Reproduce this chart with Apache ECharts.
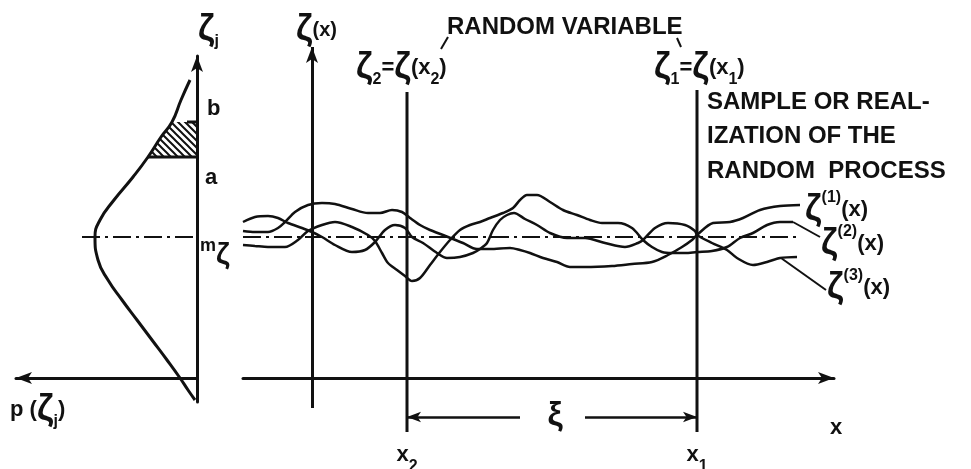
<!DOCTYPE html>
<html>
<head>
<meta charset="utf-8">
<script src="https://cdn.jsdelivr.net/npm/echarts@6.0.0/dist/echarts.min.js"></script>
<style>
html, body { margin: 0; padding: 0; background: #fff; }
#main { width: 971px; height: 469px; }
</style>
</head>
<body>
<div id="main"></div>
<script>
// levels on the zeta scale (shared by both panels)
var M_ZETA = 14.1;
var A_LEVEL = 22.1;
var B_LEVEL = 25.6;
// the two sampling positions on x
var X2 = 9.5;
var X1 = 38.5;

// density p(zeta)
var bellZeta = [29.8, 27.8, 25.6, 24.1, 22.1, 20.1, 17.8, 15.8, 14.1, 11.8, 9.8, 7.8, 5.8, 3.8, 1.8, 0, -1.2, -2.2];
var bellP    = [0.7, 1.6, 2.5, 3.6, 4.9, 6.4, 8.3, 9.7, 10.2, 9.9, 8.9, 7.5, 6.0, 4.5, 3.0, 1.7, 0.9, 0.2];

// three realizations zeta^(k)(x), [x, zeta]
var sample1 = [[-6.9,14.7],[-5.7,14.6],[-4.4,14.6],[-3.4,15.0],[-2.7,15.6],[-1.7,16.6],[-0.4,17.3],[1.0,17.5],[2.3,17.4],[4.0,16.9],[5.6,16.5],[6.8,16.5],[8.0,16.8],[9.0,16.6],[9.8,16.0],[10.8,15.3],[11.8,14.8],[13.1,14.3],[14.1,13.9],[15.1,13.5],[16.5,12.9],[17.8,12.9],[19.8,13.0],[20.8,12.8],[21.8,12.5],[23.1,12.0],[24.5,11.6],[25.8,11.1],[27.3,11.1],[30.0,11.2],[32.0,11.4],[34.0,11.6],[35.6,12.3],[37.0,13.1],[38.0,13.8],[38.5,14.3],[40.1,15.5],[41.8,15.6],[43.1,16.0],[44.8,16.8],[46.8,17.2],[48.8,17.3]];
var sample2 = [[-6.9,13.3],[-5.7,13.2],[-4.4,13.1],[-2.7,13.1],[-1.4,13.8],[-0.4,14.7],[1.0,15.3],[2.3,15.6],[4.0,15.1],[5.6,14.3],[6.3,13.7],[7.0,12.5],[7.6,11.5],[8.5,10.8],[9.3,10.2],[10.0,9.7],[10.8,10.0],[11.8,11.3],[12.8,12.6],[13.8,13.8],[14.8,14.8],[15.8,15.3],[16.8,15.6],[17.8,16.0],[19.1,16.5],[20.1,17.0],[20.8,17.8],[21.5,18.3],[22.5,18.3],[23.8,17.6],[25.1,16.8],[26.5,16.3],[27.8,15.8],[29.0,15.5],[30.6,15.5],[32.0,15.0],[33.1,13.8],[34.0,13.1],[35.0,12.6],[36.0,12.5],[37.3,12.5],[38.5,12.6],[40.0,12.7],[41.5,13.1],[42.8,14.0],[44.1,14.5],[45.5,15.3],[46.8,15.6],[48.1,15.6]];
var sample3 = [[-6.9,15.6],[-5.7,16.1],[-4.4,16.2],[-3.4,16.0],[-2.4,15.5],[-1.0,15.0],[0,14.6],[1.0,14.1],[2.3,13.3],[4.0,12.6],[5.3,12.8],[6.3,13.6],[7.3,14.8],[8.3,15.3],[9.3,15.0],[10.0,14.1],[11.1,13.5],[12.5,12.5],[13.5,12.0],[14.8,12.1],[16.1,12.5],[16.8,12.9],[17.5,13.5],[18.1,14.8],[18.8,15.8],[19.5,16.3],[20.2,16.5],[21.3,15.9],[22.5,15.3],[23.8,14.5],[25.5,14.0],[27.3,14.0],[29.3,13.5],[31.3,13.1],[32.6,13.5],[33.1,13.8],[34.3,15.0],[35.6,15.5],[37.3,15.3],[38.3,14.7],[38.5,14.3],[40.0,13.5],[41.5,12.8],[42.5,12.0],[44.1,11.3],[45.5,11.6],[46.8,12.0],[48.5,12.1]];

var INK = '#111';
var FONT = '"Liberation Sans", Arial, sans-serif';

var bell = bellZeta.map(function (z, i) { return [bellP[i], z]; });
// hatched probability between a and b
var hatch = bell.filter(function (d) { return d[1] >= A_LEVEL && d[1] <= B_LEVEL; });
hatch.push([0, A_LEVEL], [0, B_LEVEL]);

var tile = document.createElement('canvas');
tile.width = 7; tile.height = 7;
var g = tile.getContext('2d');
g.strokeStyle = INK; g.lineWidth = 2;
g.beginPath();
g.moveTo(-1, -1); g.lineTo(8, 8);
g.moveTo(-1, 6); g.lineTo(1, 8);
g.moveTo(6, -1); g.lineTo(8, 1);
g.stroke();

var dom = document.getElementById('main');
var myChart = echarts.init(dom);

function seg(name, data, width, xi, extra) {
    var s = {
        name: name, type: 'line', xAxisIndex: xi, yAxisIndex: xi,
        data: data, symbol: 'none', silent: true, clip: false,
        lineStyle: { color: INK, width: width }
    };
    for (var k in extra) s[k] = extra[k];
    return s;
}

var RICH = {
    z:   { font: 'bold 36px ' + FONT, lineHeight: 40 },
    zs:  { font: 'bold 30px ' + FONT, lineHeight: 34, verticalAlign: 'bottom' },
    t:   { font: 'bold 22px ' + FONT, lineHeight: 40 },
    tm:  { font: 'bold 20px ' + FONT, lineHeight: 34 },
    ts:  { font: 'bold 18px ' + FONT, lineHeight: 30, verticalAlign: 'top' },
    sub: { font: 'bold 16px ' + FONT, lineHeight: 16, verticalAlign: 'bottom' },
    sup: { font: 'bold 16px ' + FONT, lineHeight: 16, verticalAlign: 'top' }
};

function txt(x, y, text, font, align) {
    return {
        type: 'text', x: x, y: y, silent: true,
        style: {
            text: text, rich: RICH, fill: INK,
            font: font || ('bold 24px ' + FONT),
            align: align || 'left', verticalAlign: 'middle'
        }
    };
}

function mark(x1, y1, x2, y2) {
    return { type: 'line', silent: true, shape: { x1: x1, y1: y1, x2: x2, y2: y2 }, style: { stroke: INK, lineWidth: 2 } };
}

var hidden = { axisTick: { show: false }, axisLabel: { show: false }, splitLine: { show: false } };
function axis(o) { for (var k in hidden) o[k] = hidden[k]; return o; }

option = {
    animation: false,
    backgroundColor: '#fff',
    grid: [
        { left: 16, right: 774, top: 56, bottom: 67, outerBoundsMode: 'none' },
        { left: 243, right: 137, top: 47, bottom: 24, outerBoundsMode: 'none' }
    ],
    xAxis: [
        axis({ type: 'value', gridIndex: 0, min: 0, max: 18.1, inverse: true,
            axisLine: { show: true, onZero: true, symbol: ['arrow', 'none'], symbolSize: [9, 16], lineStyle: { color: INK, width: 3 } } }),
        axis({ type: 'value', gridIndex: 1, min: -6.9, max: 52.2,
            axisLine: { show: true, onZero: true, symbol: ['none', 'arrow'], symbolSize: [9, 16], lineStyle: { color: INK, width: 3 } } })
    ],
    yAxis: [
        axis({ type: 'value', gridIndex: 0, min: -2.4, max: 32.2, position: 'right',
            axisLine: { show: true, onZero: false, symbol: ['none', 'arrow'], symbolSize: [9, 16], lineStyle: { color: INK, width: 3 } } }),
        axis({ type: 'value', gridIndex: 1, min: -6.7, max: 33.1, axisLine: { show: false } })
    ],
    series: [
        seg('p(zeta)', bell, 3, 0, { smooth: 0.5 }),
        {
            name: 'P(a<zeta<b)', type: 'custom', xAxisIndex: 0, yAxisIndex: 0,
            data: [[0, A_LEVEL]], silent: true,
            renderItem: function (params, api) {
                return {
                    type: 'polygon',
                    shape: { points: hatch.map(function (d) { return api.coord(d); }) },
                    style: { fill: { image: tile, repeat: 'repeat' }, stroke: null }
                };
            }
        },
        seg('a', [[bellP[4], A_LEVEL], [-0.4, A_LEVEL]], 3, 0),
        seg('b', [[1.0, B_LEVEL], [-0.4, B_LEVEL]], 3, 0),
        seg('mean left', [[11.5, M_ZETA], [0, M_ZETA]], 2, 0, { lineStyle: { color: INK, width: 2, type: [18, 5, 3, 5] } }),

        seg('mean right', [[-6.9, M_ZETA], [48.5, M_ZETA]], 2, 1, { lineStyle: { color: INK, width: 2, type: [18, 5, 3, 5] } }),
        seg('zeta1', sample1, 2.5, 1, { smooth: 0.3 }),
        seg('zeta2', sample2, 2.5, 1, { smooth: 0.3 }),
        seg('zeta3', sample3, 2.5, 1, { smooth: 0.3 }),
        seg('x2', [[X2, -5.4], [X2, 28.6]], 3, 1),
        seg('x1', [[X1, -5.4], [X1, 28.8]], 3, 1),
        seg('lead2', [[48.1, 15.6], [50.8, 14.1]], 2, 1),
        seg('lead3', [[46.9, 12.0], [51.4, 8.8]], 2, 1),
        seg('zeta axis', [], 3, 1, {
            markLine: {
                silent: true, symbol: ['none', 'arrow'], symbolSize: [9, 16],
                label: { show: false }, emphasis: { disabled: true },
                lineStyle: { color: INK, width: 3, type: 'solid' },
                data: [[{ coord: [0, -3.0] }, { coord: [0, 33.1] }]]
            }
        }),
        seg('xi', [], 2.5, 1, {
            markLine: {
                silent: true, symbol: ['arrow', 'none'], symbolSize: [8, 14],
                label: { show: false }, emphasis: { disabled: true },
                lineStyle: { color: INK, width: 2.5, type: 'solid' },
                data: [
                    [{ coord: [X2, -3.9] }, { coord: [20.8, -3.9] }],
                    [{ coord: [X1, -3.9] }, { coord: [27.3, -3.9] }]
                ]
            }
        })
    ],
    graphic: [
        txt(198, 30, '{z|ζ}{sub|j}'),
        txt(10, 410, '{t|p (}{z|ζ}{sub|j}{t|)}'),
        txt(207, 109, 'b', 'bold 22px ' + FONT),
        txt(205, 178, 'a', 'bold 22px ' + FONT),
        txt(200, 254, '{ts|m}{zs|ζ}'),
        txt(296, 30, '{z|ζ}{tm|(x)}'),
        txt(447, 27, 'RANDOM VARIABLE'),
        mark(448, 37, 441, 49),
        mark(677, 38, 681, 47),
        txt(356, 68, '{z|ζ}{sub|2}{t|=}{z|ζ}{t|(x}{sub|2}{t|)}'),
        txt(654, 68, '{z|ζ}{sub|1}{t|=}{z|ζ}{t|(x}{sub|1}{t|)}'),
        txt(707, 102, 'SAMPLE OR REAL-'),
        txt(707, 136, 'IZATION OF THE'),
        txt(707, 171, 'RANDOM  PROCESS'),
        txt(805, 210, '{z|ζ}{sup|(1)}{t|(x)}'),
        txt(821, 244, '{z|ζ}{sup|(2)}{t|(x)}'),
        txt(827, 288, '{z|ζ}{sup|(3)}{t|(x)}'),
        txt(555, 416, 'ξ', 'bold 34px ' + FONT, 'center'),
        txt(407, 455, '{t|x}{sub|2}', null, 'center'),
        txt(697, 455, '{t|x}{sub|1}', null, 'center'),
        txt(836, 428, 'x', 'bold 22px ' + FONT, 'center')
    ]
};

if (option && typeof option === "object") {
    myChart.setOption(option, true);
}
</script>
</body>
</html>
